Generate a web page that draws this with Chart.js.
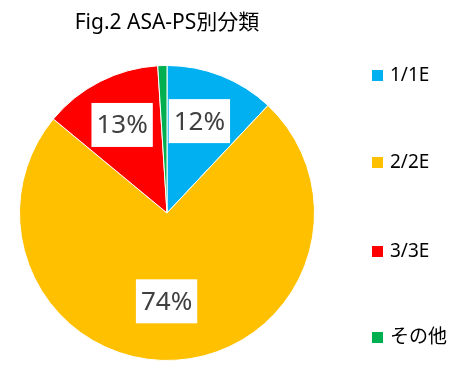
<!DOCTYPE html>
<html>
<head>
<meta charset="utf-8">
<script src="https://cdn.jsdelivr.net/npm/chart.js@4/dist/chart.umd.min.js"></script>
<style>
  html, body { margin: 0; padding: 0; background: #fff; }
  #wrap { width: 467px; height: 391px; position: relative; }
</style>
</head>
<body>
<div id="wrap"><canvas id="chart-canvas" width="467" height="391"></canvas></div>
<script>
const titleText = 'Fig.2 ASA-PS別分類';
const categories = ['1/1E', '2/2E', '3/3E', 'その他'];
const percentValues = [12, 74, 13, 1];
const sliceColors = ['#00B0F0', '#FFC000', '#FF0000', '#00B050'];

const FONT = "'Noto Sans', 'Noto Sans CJK JP', sans-serif";

// title, boxed percentage labels and the spaced-out legend on the right
const decorations = {
  id: 'decorations',
  afterDatasetsDraw(chart) {
    const c = chart.ctx;
    const meta = chart.getDatasetMeta(0);
    c.save();

    c.fillStyle = '#000';
    c.font = '21px ' + FONT;
    c.textAlign = 'center';
    c.textBaseline = 'middle';
    c.fillText(titleText, 167, 23);

    c.font = '26px ' + FONT;
    meta.data.forEach((arc, i) => {
      if (percentValues[i] < 5) return;
      const p = arc.getProps(['x', 'y', 'startAngle', 'endAngle', 'outerRadius'], true);
      const mid = (p.startAngle + p.endAngle) / 2;
      const dist = p.outerRadius * (i === 1 ? 0.6 : 0.67);
      const x = p.x + Math.cos(mid) * dist - (i === 0 ? 4 : i === 1 ? 6 : 0);
      const y = p.y + Math.sin(mid) * dist;
      const text = percentValues[i] + '%';
      const w = c.measureText(text).width + 10;
      c.fillStyle = '#fff';
      c.fillRect(x - w / 2, y - 22, w, 44);
      c.fillStyle = '#404040';
      c.fillText(text, x, y + 1);
    });

    const legendY = [76, 163, 252, 338];
    c.font = '19px ' + FONT;
    c.textAlign = 'left';
    categories.forEach((name, i) => {
      c.fillStyle = sliceColors[i];
      c.fillRect(372, legendY[i] - 6, 11, 11);
      c.fillStyle = '#000';
      c.fillText(name, 390, legendY[i]);
    });
    c.restore();
  }
};

new Chart(document.getElementById('chart-canvas').getContext('2d'), {
  type: 'pie',
  data: {
    labels: categories,
    datasets: [{
      data: percentValues,
      backgroundColor: sliceColors,
      borderColor: '#fff',
      borderWidth: 1
    }]
  },
  options: {
    responsive: false,
    animation: false,
    layout: { padding: { left: 19, right: 152, top: 65, bottom: 30 } },
    plugins: {
      legend: { display: false },
      title: { display: false },
      tooltip: { enabled: false }
    }
  },
  plugins: [decorations]
});
</script>
</body>
</html>
